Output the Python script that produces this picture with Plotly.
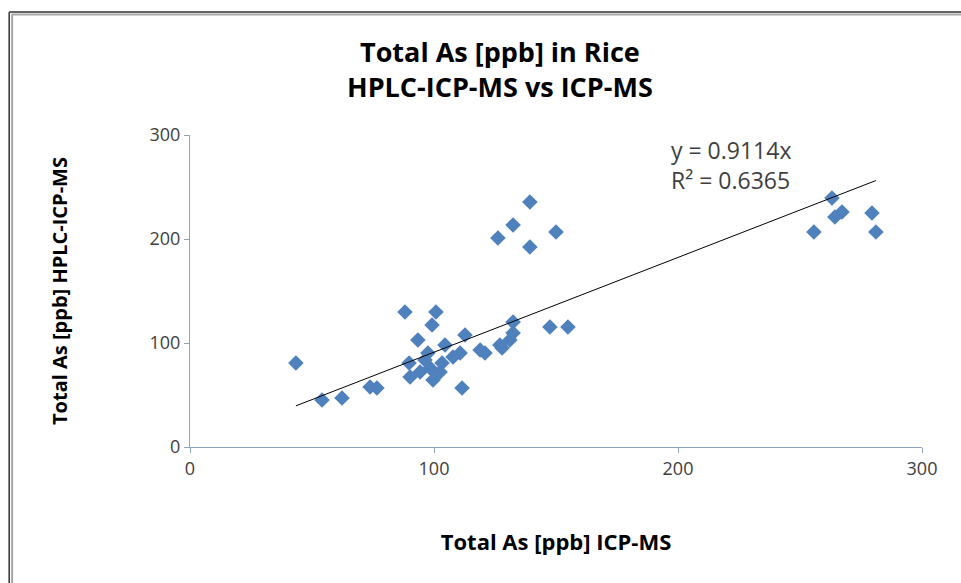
import plotly.graph_objects as go

icp_ms = [43.4, 54.1, 62.3, 73.8, 76.6, 88.1, 89.8, 90.2, 93.4, 99.2, 100.8, 97.5, 98.4, 99.6,
          103.3, 104.5, 107.8, 110.7, 112.7, 111.5, 118.9, 120.9, 127.0, 127.9, 131.1, 132.4,
          132.4, 147.5, 154.9, 126.2, 132.4, 139.3, 139.3, 150.0, 255.7, 263.1, 264.3, 267.2,
          279.5, 281.1, 94.3, 102.5, 96.3]
hplc_icp_ms = [80.8, 45.2, 47.1, 57.7, 56.7, 129.8, 80.8, 67.3, 102.9, 117.3, 129.8, 90.4, 76.0, 64.4,
               80.8, 98.1, 86.5, 90.4, 107.7, 56.7, 93.3, 90.4, 98.1, 95.2, 102.9, 109.6,
               120.2, 115.4, 115.4, 201.0, 213.5, 235.6, 192.3, 206.7, 206.7, 239.4, 221.2, 226.0,
               225.0, 206.7, 72.1, 72.1, 83.7]
slope = 0.9114
r2 = 0.6365
x_ticks = [0, 100, 200, 300]
y_ticks = [0, 100, 200, 300]
title_lines = ["Total As [ppb] in Rice", "HPLC-ICP-MS vs ICP-MS"]

font_family = "'Open Sans', 'Noto Sans', sans-serif"

fig = go.Figure()
fig.add_trace(go.Scatter(
    x=icp_ms, y=hplc_icp_ms, mode="markers",
    marker=dict(symbol="diamond", size=12, color="#4F81BD", line=dict(width=0)),
    showlegend=False, hoverinfo="x+y"))

xmin, xmax = min(icp_ms), max(icp_ms)
fig.add_trace(go.Scatter(
    x=[xmin, xmax], y=[slope * xmin, slope * xmax], mode="lines",
    line=dict(color="black", width=1), showlegend=False, hoverinfo="skip"))

fig.update_layout(
    width=961, height=583,
    margin=dict(l=190, r=39, t=135, b=136),
    paper_bgcolor="white", plot_bgcolor="white",
    font=dict(family=font_family, color="#404040", size=18),
    xaxis=dict(
        range=[0, 300], tickvals=x_ticks, showgrid=False, zeroline=False,
        showline=True, linecolor="#8EA4BE", linewidth=1,
        ticks="outside", ticklen=5, tickcolor="#8EA4BE",
        tickfont=dict(size=18, color="#404040"),
        title=dict(text="<b>Total As [ppb] ICP-MS</b>", font=dict(size=22, color="black"), standoff=56)),
    yaxis=dict(
        range=[0, 300], tickvals=y_ticks, showgrid=False, zeroline=False,
        showline=True, linecolor="#8EA4BE", linewidth=1,
        ticks="outside", ticklen=5, tickcolor="#8EA4BE",
        tickfont=dict(size=18, color="#404040"),
        title=dict(text="<b>Total As [ppb] HPLC-ICP-MS</b>", font=dict(size=20, color="black"), standoff=76)),
    annotations=[
        dict(x=0.4235, y=1.212, xref="paper", yref="paper", xanchor="center", yanchor="middle",
             text="<b>" + "<br>".join(title_lines) + "</b>", showarrow=False,
             font=dict(size=27, color="black")),
        dict(x=0.655, y=1.01, xref="paper", yref="paper", xanchor="left", yanchor="top",
             text=f"y = {slope}x<br>R\u00b2 = {r2}", showarrow=False, align="left",
             font=dict(size=23, color="#404040")),
    ],
    shapes=[
        dict(type="line", xref="paper", yref="paper", x0=-0.247, x1=1.1, y0=1.394, y1=1.394,
             line=dict(color="#303030", width=1.5)),
        dict(type="line", xref="paper", yref="paper", x0=-0.244, x1=1.1, y0=1.386, y1=1.386,
             line=dict(color="#A8A8A8", width=2)),
        dict(type="line", xref="paper", yref="paper", x0=-0.247, x1=-0.247, y0=1.394, y1=-0.5,
             line=dict(color="#303030", width=1.5)),
        dict(type="line", xref="paper", yref="paper", x0=-0.243, x1=-0.243, y0=1.386, y1=-0.5,
             line=dict(color="#A8A8A8", width=2)),
    ],
)

fig.write_html("out.html")
